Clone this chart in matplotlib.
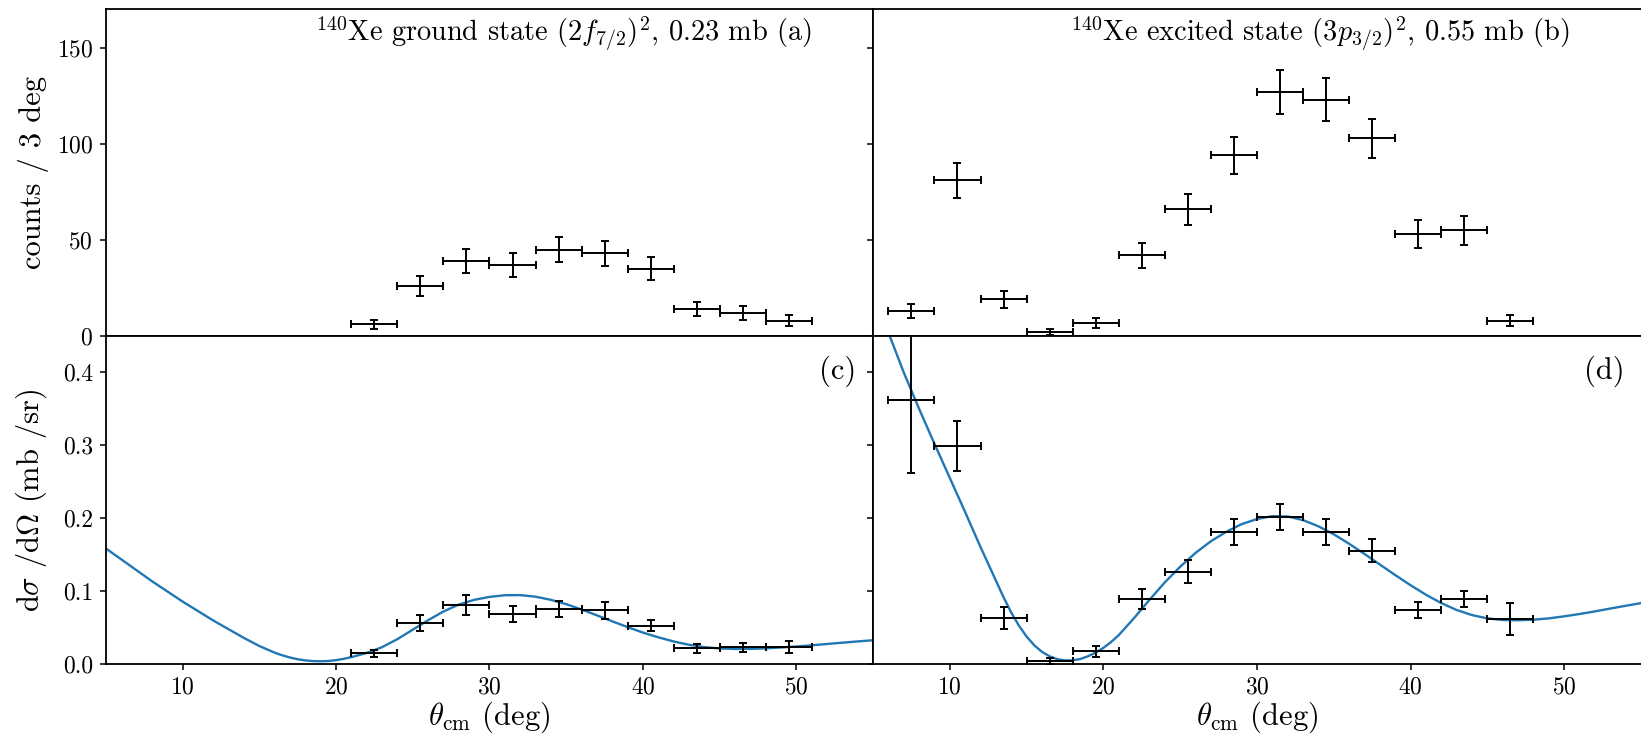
import matplotlib
matplotlib.use("Agg")
import matplotlib.pyplot as plt
import numpy as np

plt.rcParams['font.family'] = 'serif'
plt.rcParams['font.serif'] = ['cmr10', 'DejaVu Serif']
plt.rcParams['mathtext.fontset'] = 'cm'
plt.rcParams['axes.formatter.use_mathtext'] = True
plt.rcParams['axes.unicode_minus'] = False

# ---------------- data ----------------
# (a) ground state counts
a_x = [22.5, 25.5, 28.5, 31.5, 34.5, 37.5, 40.5, 43.5, 46.5, 49.5]
a_counts = [6, 26, 39, 37, 45, 43, 35, 14, 12, 8]
a_err = [2.4, 5.1, 6.2, 6.1, 6.7, 6.6, 5.9, 3.7, 3.5, 2.8]

# (b) excited state counts
b_x = [7.5, 10.5, 13.5, 16.5, 19.5, 22.5, 25.5, 28.5, 31.5, 34.5, 37.5, 40.5, 43.5, 46.5]
b_counts = [13, 81, 19, 2, 7, 42, 66, 94, 127, 123, 103, 53, 55, 8]
b_err = [3.6, 9.0, 4.4, 1.4, 2.6, 6.5, 8.1, 9.7, 11.3, 11.1, 10.1, 7.3, 7.4, 2.8]

# (c) ground state cross section
c_y = [0.014, 0.055, 0.080, 0.068, 0.075, 0.073, 0.052, 0.021, 0.022, 0.023]
c_err = [0.005, 0.011, 0.0135, 0.011, 0.011, 0.012, 0.008, 0.006, 0.006, 0.0085]

# (d) excited state cross section
d_y = [0.362, 0.299, 0.063, 0.003, 0.017, 0.089, 0.126, 0.181, 0.201, 0.181, 0.155, 0.0735, 0.088, 0.061]
d_err = [0.100, 0.034, 0.015, 0.004, 0.0075, 0.014, 0.016, 0.018, 0.018, 0.0176, 0.016, 0.011, 0.011, 0.022]

bin_half = 1.5

# theory curves
c_theo_x = [5, 6, 7, 8, 9, 10, 11, 12, 13, 14, 15, 16, 16.5, 17, 17.5, 18, 18.5, 19,
            19.5, 20, 20.5, 21, 22, 23, 24, 25, 26, 27, 28, 29, 30, 31, 32, 33, 34, 35,
            36, 37, 38, 39, 40, 41, 42, 43, 44, 45, 46, 47, 48, 49, 50, 51, 52, 53, 54, 55]
c_theo = [0.158, 0.143, 0.128, 0.113, 0.099, 0.085, 0.072, 0.059, 0.047, 0.035,
          0.024, 0.0148, 0.0112, 0.0082, 0.0058, 0.0042, 0.0033, 0.0031,
          0.0034, 0.0046, 0.0064, 0.0088, 0.0145, 0.0225, 0.0335, 0.0465, 0.0595,
          0.0715, 0.081, 0.0875, 0.0915, 0.0938, 0.0940, 0.0918, 0.0875, 0.0815,
          0.0742, 0.0662, 0.0580, 0.0500, 0.0425, 0.0360, 0.0303, 0.0257, 0.0225,
          0.0207, 0.0200, 0.0201, 0.0208, 0.0220, 0.0234, 0.0250, 0.0268, 0.0286,
          0.0303, 0.0320]
d_theo_x = [5, 6, 7, 8, 9, 10, 11, 12, 13, 13.5, 14, 14.5, 15, 15.5, 16, 16.5, 17,
            17.5, 18, 18.5, 19, 19.5, 20, 20.5, 21, 22, 23, 24, 25, 26, 27, 28, 29,
            30, 31, 32, 33, 34, 35, 36, 37, 38, 39, 40, 41, 42, 43, 44, 45, 46, 47,
            48, 49, 50, 51, 52, 53, 54, 55]
d_theo = [0.51, 0.455, 0.400, 0.350, 0.302, 0.255, 0.208, 0.160, 0.114, 0.091,
          0.070, 0.052, 0.037, 0.025, 0.016, 0.0098, 0.0060, 0.0042, 0.0043,
          0.0062, 0.0100, 0.0150, 0.0215, 0.0295, 0.0390, 0.0625, 0.0875, 0.1115,
          0.1330, 0.1520, 0.1680, 0.1810, 0.1915, 0.1985, 0.2025, 0.2020, 0.1970,
          0.1885, 0.1775, 0.1645, 0.1505, 0.1360, 0.1215, 0.1075, 0.0945, 0.0830,
          0.0735, 0.0665, 0.0620, 0.0598, 0.0594, 0.0602, 0.0620, 0.0648, 0.0680,
          0.0716, 0.0755, 0.0793, 0.0830]

titles = [r'$^{140}$Xe ground state $(2f_{7/2})^2$, 0.23 mb (a)',
          r'$^{140}$Xe excited state $(3p_{3/2})^2$, 0.55 mb (b)']
sublabels = ['(c)', '(d)']
xticks = [10, 20, 30, 40, 50]
top_yticks = [0, 50, 100, 150]
bot_yticks = [0.0, 0.1, 0.2, 0.3, 0.4]

# ---------------- figure ----------------
W, H = 1641, 737
fig = plt.figure(figsize=(W / 100, H / 100), dpi=100)

x0, xm, x1 = 106 / W, 873 / W, 1.0
yt, ym, yb = 1 - 9.4 / H, 1 - 336 / H, 1 - 663.5 / H

ax_a = fig.add_axes([x0, ym, xm - x0, yt - ym])
ax_b = fig.add_axes([xm, ym, x1 - xm, yt - ym], sharex=ax_a, sharey=ax_a)
ax_c = fig.add_axes([x0, yb, xm - x0, ym - yb], sharex=ax_a)
ax_d = fig.add_axes([xm, yb, x1 - xm, ym - yb], sharex=ax_a, sharey=ax_c)

eb_kw = dict(fmt='none', ecolor='k', elinewidth=1.4, capsize=3.2, capthick=1.4)
blue = '#1f77b4'

ax_a.errorbar(a_x, a_counts, yerr=a_err, xerr=bin_half, **eb_kw)
ax_b.errorbar(b_x, b_counts, yerr=b_err, xerr=bin_half, **eb_kw)
ax_c.plot(c_theo_x, c_theo, color=blue, lw=1.7)
ax_c.errorbar(a_x, c_y, yerr=c_err, xerr=bin_half, **eb_kw)
ax_d.plot(d_theo_x, d_theo, color=blue, lw=1.7)
ax_d.errorbar(b_x, d_y, yerr=d_err, xerr=bin_half, **eb_kw)

ax_a.set_xlim(5, 55)
ax_a.set_ylim(0, 170)
ax_c.set_ylim(0, 0.45)
ax_a.set_xticks(xticks)
ax_a.set_yticks(top_yticks)
ax_c.set_yticks(bot_yticks)
ax_c.yaxis.set_major_formatter(matplotlib.ticker.FormatStrFormatter('%.1f'))

for ax in (ax_a, ax_b, ax_c, ax_d):
    for s in ax.spines.values():
        s.set_linewidth(1.3)
    ax.tick_params(direction='out', length=4.3, width=1.1, labelsize=17, pad=5)

for ax in (ax_a, ax_b):
    ax.tick_params(bottom=False, labelbottom=False)
for ax in (ax_b, ax_d):
    ax.tick_params(labelleft=False)
    ax.spines['right'].set_visible(False)

ax_a.set_ylabel('counts / 3 deg', fontsize=22)
ax_c.set_ylabel(r'd$\sigma$ /d$\Omega$ (mb /sr)', fontsize=22)
ax_a.yaxis.set_label_coords(-0.074, 0.5)
ax_c.yaxis.set_label_coords(-0.074, 0.5)
ax_c.set_xlabel(r'$\theta_{\rm cm}$ (deg)', fontsize=22, labelpad=1)
ax_d.set_xlabel(r'$\theta_{\rm cm}$ (deg)', fontsize=22, labelpad=1)

ax_a.text(0.9205, 0.904, titles[0], transform=ax_a.transAxes, ha='right', va='baseline', fontsize=20.4)
ax_b.text(0.9076, 0.904, titles[1], transform=ax_b.transAxes, ha='right', va='baseline', fontsize=20.4)
ax_c.text(0.9787, 0.869, sublabels[0], transform=ax_c.transAxes, ha='right', va='baseline', fontsize=22)
ax_d.text(0.979, 0.869, sublabels[1], transform=ax_d.transAxes, ha='right', va='baseline', fontsize=22)

fig.savefig('out.png', dpi=100)
